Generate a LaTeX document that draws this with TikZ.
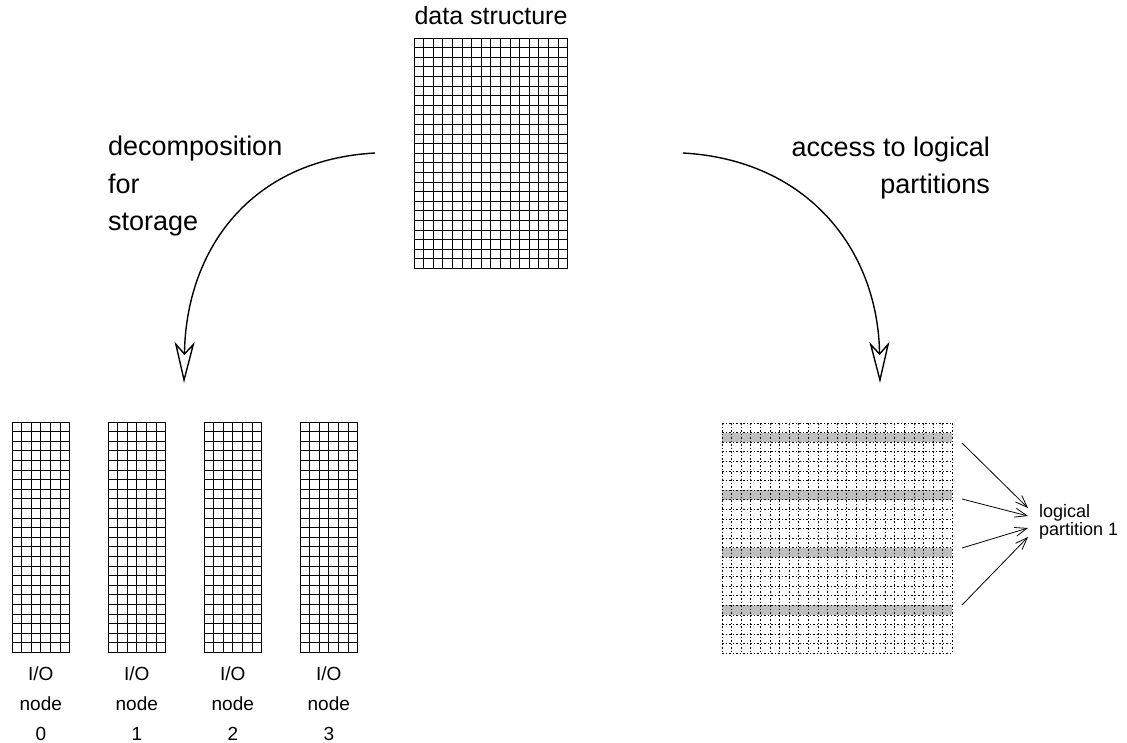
\documentclass[tikz,border=0pt]{standalone}
\usepackage{fontspec}
\setmainfont{Liberation Sans}
\usetikzlibrary{arrows.meta}
\newcommand{\mygrid}[5]{%
  \foreach \i in {0,...,#3} \draw[#5] ({#1+\i*9.6},{#2}) -- ({#1+\i*9.6},{#2+#4*9.6});
  \foreach \j in {0,...,#4} \draw[#5] ({#1},{#2+\j*9.6}) -- ({#1+#3*9.6},{#2+\j*9.6});
}
\begin{document}
\begin{tikzpicture}[x=1pt,y=-1pt,
  gridline/.style={line width=0.8pt, line cap=rect},
  dotline/.style={line width=0.8pt, dash pattern=on 1.5pt off 2pt},
  stripe/.style={fill=black!25, draw=none},
  bigarrow/.style={line width=1.4pt, -{Stealth[open,length=41pt,width=20pt,inset=11pt]}},
  smallarrow/.style={line width=0.8pt, -{Straight Barb[length=12pt,width=9pt]}},
  biglabel/.style={font=\fontsize{27}{37.5}\selectfont, inner sep=0pt},
  smalllabel/.style={font=\fontsize{19}{30}\selectfont, inner sep=0pt, align=center},
  gridbox/.style={inner sep=0pt, anchor=north west},
]
\useasboundingbox (0,0) rectangle (1127,743);

% main data structure
\node[gridbox, minimum width=153.6pt, minimum height=230.4pt] (main) at (414,38) {};
\mygrid{414}{38}{16}{24}{gridline}
\node[font=\fontsize{25}{30}\selectfont, inner sep=0pt, anchor=base] (title) at (main.north |- 0,25) {data structure};

% storage grids
\foreach \k/\x in {0/12,1/108,2/204,3/300}{
  \node[gridbox, minimum width=57.6pt, minimum height=230.4pt] (io\k) at (\x,422) {};
  \mygrid{\x}{422}{6}{24}{gridline}
  \node[smalllabel, anchor=north] (iol\k) at ({\x+28.8},667) {I/O\\node\\\k};
}

% logical partitions grid
\node[gridbox, minimum width=230.4pt, minimum height=230.4pt] (part) at (722,423) {};
\foreach \r in {1,7,13,19}
  \fill[stripe] (722,{423+\r*9.6}) rectangle (952.4,{423+(\r+1)*9.6});
\mygrid{722}{423}{24}{24}{dotline}

% labels
\node[biglabel, anchor=base west, align=left] (dec) at (108,231) {decomposition\\for\\storage};
\node[biglabel, anchor=base east, align=right] (acc) at (990,194) {access to logical\\partitions};
\node[font=\fontsize{18}{18}\selectfont, inner sep=0pt, align=left, anchor=west] (lp) at (1039,522) {logical\\partition 1};

% big curved arrows
\coordinate (ls) at (375,153);
\coordinate (le) at (184,383);
\coordinate (rs) at (683,153);
\coordinate (re) at (880,383);
\draw[bigarrow] (ls) .. controls (250,160) and (186,250) .. (le);
\draw[bigarrow] (rs) .. controls (808,160) and (878,250) .. (re);

% small arrows to label
\coordinate (a1) at (962,443);
\coordinate (a2) at (962,499);
\coordinate (a3) at (962,548);
\coordinate (a4) at (962,605);
\coordinate (b1) at (1028,508);
\coordinate (b2) at (1028,516);
\coordinate (b3) at (1028,528);
\coordinate (b4) at (1028,537);
\foreach \n in {1,2,3,4} \draw[smallarrow] (a\n) -- (b\n);
\end{tikzpicture}
\end{document}
